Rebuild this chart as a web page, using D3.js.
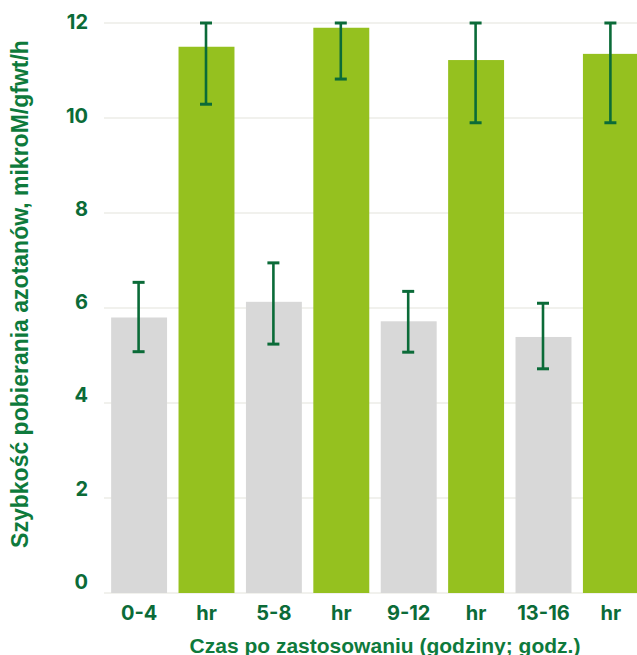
<!DOCTYPE html>
<html>
<head>
<meta charset="utf-8">
<script src="https://cdn.jsdelivr.net/npm/d3@7/dist/d3.min.js"></script>
<style>
  html, body { margin: 0; padding: 0; background: #ffffff; }
  svg { display: block; }
</style>
</head>
<body>
<svg id="chart" width="637" height="655"></svg>
<script>
// Nitrate uptake rate per time window: control (grey) vs. treated (green)
const categories = ["0-4", "hr", "5-8", "hr", "9-12", "hr", "13-16", "hr"];
const groups     = ["control", "treated", "control", "treated", "control", "treated", "control", "treated"];
const values     = [5.8, 11.5, 6.13, 11.9, 5.72, 11.22, 5.39, 11.35];
const errLow     = [5.08, 10.29, 5.24, 10.82, 5.07, 9.9, 4.72, 9.9];
const errHigh    = [6.54, 12.0, 6.95, 12.0, 6.35, 12.0, 6.1, 12.0];
const yTicks     = [0, 2, 4, 6, 8, 10, 12];

const yTitle = "Szybkość pobierania azotanów, mikroM/gfwt/h";
const xTitle = "Czas po zastosowaniu (godziny; godz.)";

const colors = { control: "#d8d8d8", treated: "#95c11f" };
const darkGreen = "#0b6b38";
const titleGreen = "#0e7a3c";
const tickFont = "Inter, Liberation Sans, sans-serif";
const titleFont = "Liberation Sans, Arial, sans-serif";

const svg = d3.select("#chart");

const x = d3.scaleBand()
  .domain(d3.range(categories.length))
  .range([105.4, 644.6])
  .paddingInner(0.17)
  .paddingOuter(0.085);

const y = d3.scaleLinear().domain([0, 12]).range([593, 23]);
// tick text sits slightly above each gridline, with a tighter spacing
const yLabel = d3.scaleLinear().domain([0, 12]).range([589, 29.3]);

// gridlines
svg.append("g")
  .selectAll("line")
  .data(yTicks)
  .join("line")
  .attr("x1", 104)
  .attr("x2", 637)
  .attr("y1", d => y(d))
  .attr("y2", d => y(d))
  .attr("stroke", "#ededE7")
  .attr("stroke-width", 1.6);

// y tick labels
svg.append("g")
  .selectAll("text")
  .data(yTicks)
  .join("text")
  .attr("x", 88)
  .attr("y", d => yLabel(d))
  .attr("text-anchor", "end")
  .attr("font-family", tickFont)
  .attr("font-weight", 700)
  .attr("font-size", 20)
  .attr("fill", darkGreen)
  .text(d => d);

// bars
svg.append("g")
  .selectAll("rect")
  .data(values)
  .join("rect")
  .attr("x", (d, i) => x(i))
  .attr("width", x.bandwidth())
  .attr("y", d => y(d))
  .attr("height", d => y(0) - y(d))
  .attr("fill", (d, i) => colors[groups[i]]);

// error bars
const eb = svg.append("g")
  .attr("stroke", darkGreen)
  .selectAll("g")
  .data(values.map((v, i) => ({ i, lo: errLow[i], hi: errHigh[i] })))
  .join("g")
  .attr("transform", d => `translate(${x(d.i) + x.bandwidth() / 2 - 0.5},0)`);

eb.append("line")
  .attr("y1", d => y(d.lo))
  .attr("y2", d => y(d.hi))
  .attr("stroke-width", 2.6);
eb.append("line")
  .attr("x1", -6).attr("x2", 6)
  .attr("y1", d => y(d.hi)).attr("y2", d => y(d.hi))
  .attr("stroke-width", 3);
eb.append("line")
  .attr("x1", -6).attr("x2", 6)
  .attr("y1", d => y(d.lo)).attr("y2", d => y(d.lo))
  .attr("stroke-width", 3);

// x category labels
svg.append("g")
  .selectAll("text")
  .data(categories)
  .join("text")
  .attr("x", (d, i) => x(i) + x.bandwidth() / 2)
  .attr("y", 620)
  .attr("text-anchor", "middle")
  .attr("font-family", tickFont)
  .attr("font-weight", 700)
  .attr("font-size", 20)
  .attr("fill", darkGreen)
  .text(d => d);

// axis titles
svg.append("text")
  .attr("x", 385)
  .attr("y", 653)
  .attr("text-anchor", "middle")
  .attr("font-family", titleFont)
  .attr("font-weight", 700)
  .attr("font-size", 21)
  .attr("fill", titleGreen)
  .text(xTitle);

svg.append("text")
  .attr("transform", "translate(28,294) rotate(-90)")
  .attr("text-anchor", "middle")
  .attr("font-family", titleFont)
  .attr("font-weight", 700)
  .attr("font-size", 23)
  .attr("fill", titleGreen)
  .text(yTitle);
</script>
</body>
</html>
